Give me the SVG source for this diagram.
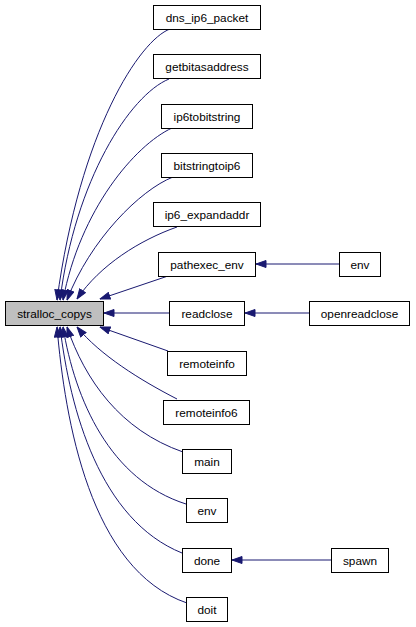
<svg xmlns="http://www.w3.org/2000/svg" width="416" height="627" viewBox="0 0 416 627">
<style>
.n rect{fill:#fff;stroke:#000;stroke-width:1}
.n text{font-family:"Liberation Sans",Arial,sans-serif;font-size:11.8px;text-anchor:middle;fill:#000}
#n0 rect{fill:#bfbfbf}
.e path{fill:none;stroke:#191970;stroke-width:1;marker-end:url(#ah)}
</style>
<defs>
<marker id="ah" markerUnits="userSpaceOnUse" markerWidth="11" markerHeight="8" refX="10.5" refY="4" orient="auto">
<path d="M0.5,0.5 L10.5,4 L0.5,7.5 z" fill="#191970" stroke="#191970"/>
</marker>
</defs>
<rect width="416" height="627" fill="#fff"/>
<g id="edges" class="e">
<path d="M170,29 C140,40 80,130 57,300"/>
<path d="M169,79 C130,95 75,180 60,300"/>
<path d="M172,128 C135,145 80,210 63,300"/>
<path d="M173,177 C140,190 90,240 67,300"/>
<path d="M177,227 C140,240 100,265 77,299"/>
<path d="M168,276 L100,299"/>
<path d="M169,313 L104,313"/>
<path d="M168,351 L100,327"/>
<path d="M177,399 C140,380 100,355 77,327"/>
<path d="M183,452 C120,430 85,380 67,327"/>
<path d="M186,504 C110,480 75,400 63,327"/>
<path d="M182,553 C100,520 70,410 60,327"/>
<path d="M187,603 C90,570 65,420 57,327"/>
<path d="M339,264 L256,264"/>
<path d="M309,313 L245,313"/>
<path d="M331,560 L232,560"/>
</g>
<g id="n0" class="n"><rect x="5.5" y="301.5" width="98" height="24"/><text x="54.5" y="317.5">stralloc_copys</text></g>
<g id="n1" class="n"><rect x="153.5" y="5.5" width="107" height="24"/><text x="207" y="21.5">dns_ip6_packet</text></g>
<g id="n2" class="n"><rect x="153.5" y="54.5" width="107" height="24"/><text x="207" y="70.5">getbitasaddress</text></g>
<g id="n3" class="n"><rect x="161.5" y="104.5" width="91" height="24"/><text x="207" y="120.5">ip6tobitstring</text></g>
<g id="n4" class="n"><rect x="161.5" y="153.5" width="91" height="24"/><text x="207" y="169.5">bitstringtoip6</text></g>
<g id="n5" class="n"><rect x="153.5" y="202.5" width="107" height="24"/><text x="207" y="218.5">ip6_expandaddr</text></g>
<g id="n6" class="n"><rect x="158.5" y="252.5" width="97" height="24"/><text x="207" y="268.5">pathexec_env</text></g>
<g id="n7" class="n"><rect x="339.5" y="252.5" width="41" height="24"/><text x="360" y="268.5">env</text></g>
<g id="n8" class="n"><rect x="169.5" y="301.5" width="75" height="24"/><text x="207" y="317.5">readclose</text></g>
<g id="n9" class="n"><rect x="309.5" y="301.5" width="100" height="24"/><text x="359.5" y="317.5">openreadclose</text></g>
<g id="n10" class="n"><rect x="167.5" y="351.5" width="79" height="24"/><text x="207" y="367.5">remoteinfo</text></g>
<g id="n11" class="n"><rect x="163.5" y="400.5" width="86" height="24"/><text x="206.5" y="416.5">remoteinfo6</text></g>
<g id="n12" class="n"><rect x="182.5" y="449.5" width="49" height="24"/><text x="207" y="465.5">main</text></g>
<g id="n13" class="n"><rect x="186.5" y="498.5" width="41" height="24"/><text x="207" y="514.5">env</text></g>
<g id="n14" class="n"><rect x="182.5" y="548.5" width="49" height="24"/><text x="207" y="564.5">done</text></g>
<g id="n15" class="n"><rect x="331.5" y="548.5" width="57" height="24"/><text x="360" y="564.5">spawn</text></g>
<g id="n16" class="n"><rect x="186.5" y="597.5" width="41" height="24"/><text x="207" y="613.5">doit</text></g>
</svg>
